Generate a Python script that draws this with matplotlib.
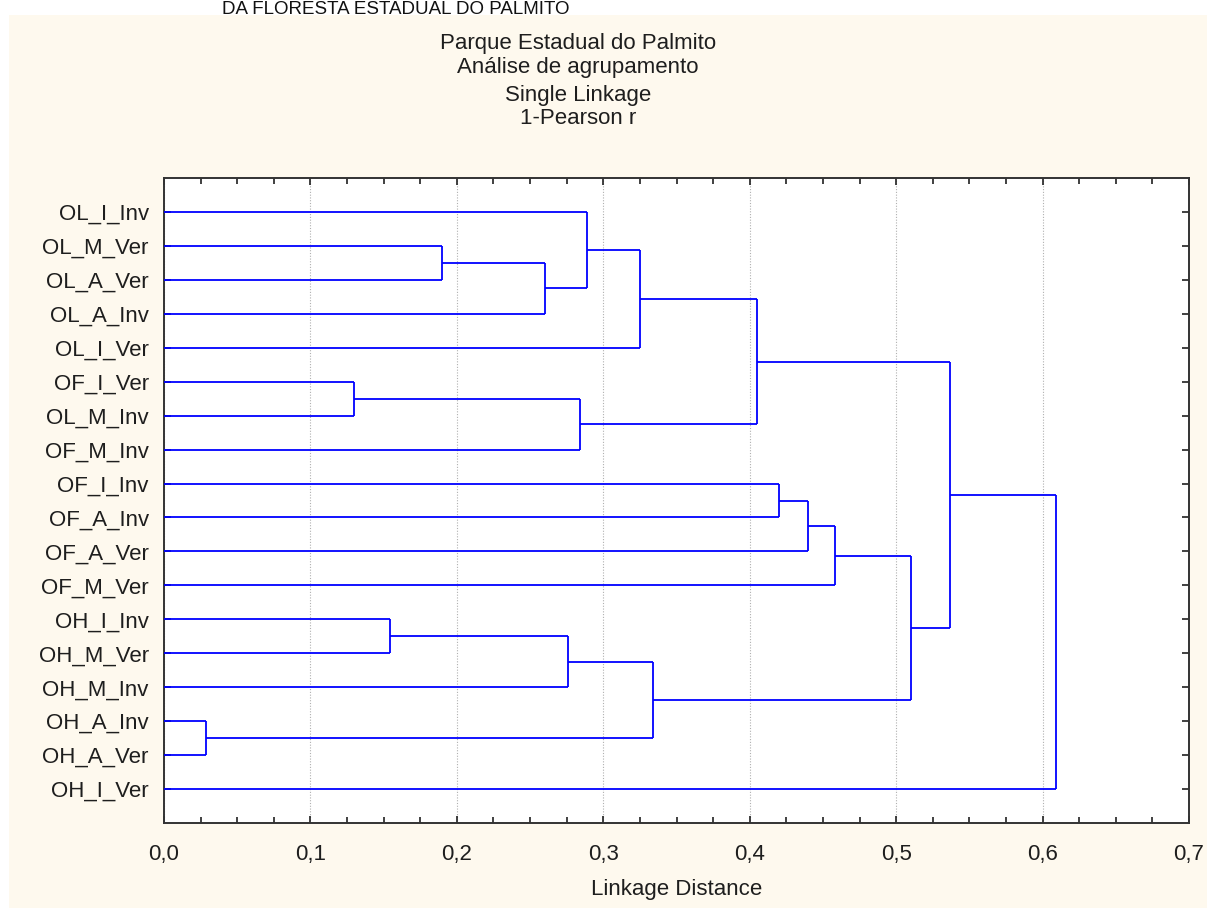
import matplotlib
matplotlib.use("Agg")
import matplotlib.pyplot as plt
from matplotlib.patches import Rectangle
from matplotlib.ticker import FixedLocator, MultipleLocator, FuncFormatter

plt.rcParams['font.family'] = ['Liberation Sans', 'DejaVu Sans']

# ---- data ----
leaf_labels = ["OL_I_Inv", "OL_M_Ver", "OL_A_Ver", "OL_A_Inv", "OL_I_Ver",
               "OF_I_Ver", "OL_M_Inv", "OF_M_Inv", "OF_I_Inv", "OF_A_Inv",
               "OF_A_Ver", "OF_M_Ver", "OH_I_Inv", "OH_M_Ver", "OH_M_Inv",
               "OH_A_Inv", "OH_A_Ver", "OH_I_Ver"]
# merges: new cluster ids start at len(leaf_labels)
merge_left = [1, 18, 0, 20, 5, 22, 21, 8, 25, 26, 12, 28, 15, 29, 27, 24, 33]
merge_right = [2, 3, 19, 4, 6, 7, 23, 9, 10, 11, 13, 14, 16, 30, 31, 32, 17]
merge_dist = [0.190, 0.260, 0.289, 0.325, 0.130, 0.284, 0.405, 0.420, 0.440,
              0.458, 0.154, 0.276, 0.0285, 0.334, 0.510, 0.537, 0.609]
x_ticks = [0.0, 0.1, 0.2, 0.3, 0.4, 0.5, 0.6, 0.7]

title_lines = ["Parque Estadual do Palmito", "Análise de agrupamento",
               "Single Linkage", "1-Pearson r"]
header_text = "DA FLORESTA ESTADUAL DO PALMITO"
x_label = "Linkage Distance"

W, H = 1207, 908
FS = 16
fig = plt.figure(figsize=(W / 100, H / 100), dpi=100)
fig.patch.set_facecolor("white")
bg = Rectangle((9 / W, 0.0), 1 - 9 / W, 1 - 15 / H,
               transform=fig.transFigure, facecolor="#FEF9EE",
               edgecolor="none", zorder=-10)
fig.add_artist(bg)

ax = fig.add_axes([164 / W, 1 - 823 / H, (1189 - 164) / W, (823 - 178) / H])
ax.set_zorder(5)
ax.set_facecolor("white")

n = len(leaf_labels)
pos = {i: (0.0, i + 1.0) for i in range(n)}
line_kw = dict(color="#0000FF", lw=1.3, solid_capstyle="butt", zorder=3)
for k, (a, b, d) in enumerate(zip(merge_left, merge_right, merge_dist)):
    xa, ya = pos[a]
    xb, yb = pos[b]
    ax.plot([xa, d], [ya, ya], **line_kw)
    ax.plot([xb, d], [yb, yb], **line_kw)
    ax.plot([d, d], [ya, yb], **line_kw)
    pos[n + k] = (d, (ya + yb) / 2)

ax.set_xlim(0, 0.7)
ax.set_ylim(n + 1, 0)
ax.xaxis.set_major_locator(FixedLocator(x_ticks))
ax.xaxis.set_minor_locator(MultipleLocator(0.025))
ax.xaxis.set_major_formatter(FuncFormatter(lambda v, p: f"{v:.1f}".replace(".", ",")))
ax.set_yticks(range(1, n + 1))
ax.set_yticklabels(leaf_labels)

ax.grid(axis="x", which="major", color="#B0B0B0", linestyle=(0, (1, 1.5)), lw=0.8, zorder=1)
ax.tick_params(axis="both", which="both", direction="in", top=True, right=True,
               color="#202020", width=1.2, labelsize=FS, labelcolor="#1e1e1e")
ax.tick_params(axis="x", which="major", length=5, pad=15)
ax.tick_params(axis="x", which="minor", length=4)
ax.tick_params(axis="y", which="major", length=5, pad=11)
for s in ax.spines.values():
    s.set_color("#333333")
    s.set_linewidth(1.4)

ax.set_xlabel(x_label, fontsize=FS, color="#1e1e1e", labelpad=10)

ys = [44, 67, 95, 119]
for t, y in zip(title_lines, ys):
    fig.text(578 / W, 1 - y / H, t, ha="center", va="center", fontsize=FS, color="#1e1e1e")

fig.text(222 / W, 1 - 14 / H, header_text, ha="left", va="baseline", fontsize=13.5, color="#111111")

fig.savefig("out.png", dpi=100)
